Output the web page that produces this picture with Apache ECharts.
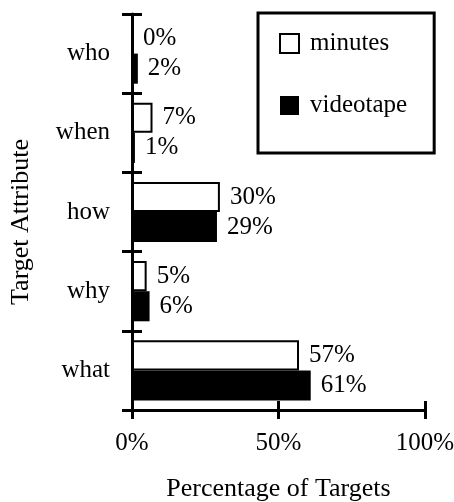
<!DOCTYPE html>
<html lang="en">
<head>
    <meta charset="UTF-8">
    <title>Target Attribute</title>
    <script src="https://cdn.jsdelivr.net/npm/echarts@6.0.0/dist/echarts.min.js"></script>
    <style>
        body, html {
            margin: 0;
            padding: 0;
            background-color: #ffffff;
        }
        #chart {
            width: 454px;
            height: 502px;
        }
    </style>
</head>
<body>
    <div id="chart"></div>
    <script>
        const categories = ['who', 'when', 'how', 'why', 'what'];
        const minutes = [0, 7, 30, 5, 57];
        const videotape = [2, 1, 29, 6, 61];
        const xMin = 0;
        const xMax = 100;
        const xStep = 50;

        const font = "'Liberation Serif', 'Times New Roman', serif";
        const ink = '#000000';

        const chart = echarts.init(document.getElementById('chart'));

        const barLabel = {
            show: true,
            position: 'right',
            distance: 10,
            formatter: '{c}%',
            color: ink,
            fontFamily: font,
            fontSize: 25
        };

        const option = {
            animation: false,
            backgroundColor: '#ffffff',
            textStyle: { fontFamily: font, color: ink },
            grid: { left: 132, right: 29, top: 14, bottom: 92, outerBoundsMode: 'none' },
            // y axis title drawn by hand so it can sit a little below the axis middle
            graphic: [{
                type: 'text',
                x: 21,
                y: 222,
                rotation: Math.PI / 2,
                style: {
                    text: 'Target Attribute',
                    fontFamily: font,
                    fontSize: 26,
                    fill: ink,
                    align: 'center',
                    verticalAlign: 'middle'
                }
            }],
            legend: {
                data: ['minutes', 'videotape'],
                orient: 'vertical',
                left: 258,
                top: 13,
                padding: [18, 27, 35, 21],
                borderColor: ink,
                borderWidth: 3,
                itemWidth: 19,
                itemHeight: 19,
                itemGap: 37,
                icon: 'rect',
                textStyle: { fontFamily: font, fontSize: 25, color: ink, padding: [0, 0, 0, 6] }
            },
            xAxis: [{
                type: 'value',
                min: xMin,
                max: xMax,
                interval: xStep,
                name: 'Percentage of Targets',
                nameLocation: 'middle',
                nameGap: 66,
                nameTextStyle: { fontFamily: font, fontSize: 26, color: ink },
                axisLine: { show: true, lineStyle: { color: ink, width: 3 } },
                axisTick: { show: true, length: 9, lineStyle: { color: ink, width: 3 } },
                axisLabel: { formatter: '{value}%', margin: 21, fontFamily: font, fontSize: 25, color: ink },
                splitLine: { show: false }
            }, {
                type: 'value',
                min: xMin,
                max: xMax,
                interval: xStep,
                position: 'bottom',
                axisLine: { show: false },
                axisTick: { show: true, inside: true, length: 9, lineStyle: { color: ink, width: 3 } },
                axisLabel: { show: false },
                splitLine: { show: false }
            }],
            yAxis: [{
                type: 'category',
                data: categories,
                inverse: true,
                axisLine: { show: true, lineStyle: { color: ink, width: 3 } },
                axisTick: { show: true, length: 10, lineStyle: { color: ink, width: 3 } },
                axisLabel: { margin: 22, fontFamily: font, fontSize: 25, color: ink }
            }, {
                type: 'category',
                data: categories,
                inverse: true,
                position: 'left',
                axisLine: { show: false },
                axisTick: { show: true, inside: true, length: 10, lineStyle: { color: ink, width: 3 } },
                axisLabel: { show: false }
            }],
            series: [{
                name: 'minutes',
                type: 'bar',
                data: minutes,
                barGap: '0%',
                barCategoryGap: '24%',
                itemStyle: { color: '#ffffff', borderColor: ink, borderWidth: 2 },
                label: barLabel
            }, {
                name: 'videotape',
                type: 'bar',
                data: videotape,
                barGap: '0%',
                barCategoryGap: '24%',
                itemStyle: { color: ink },
                label: barLabel
            }]
        };
        chart.setOption(option);
    </script>
</body>
</html>
